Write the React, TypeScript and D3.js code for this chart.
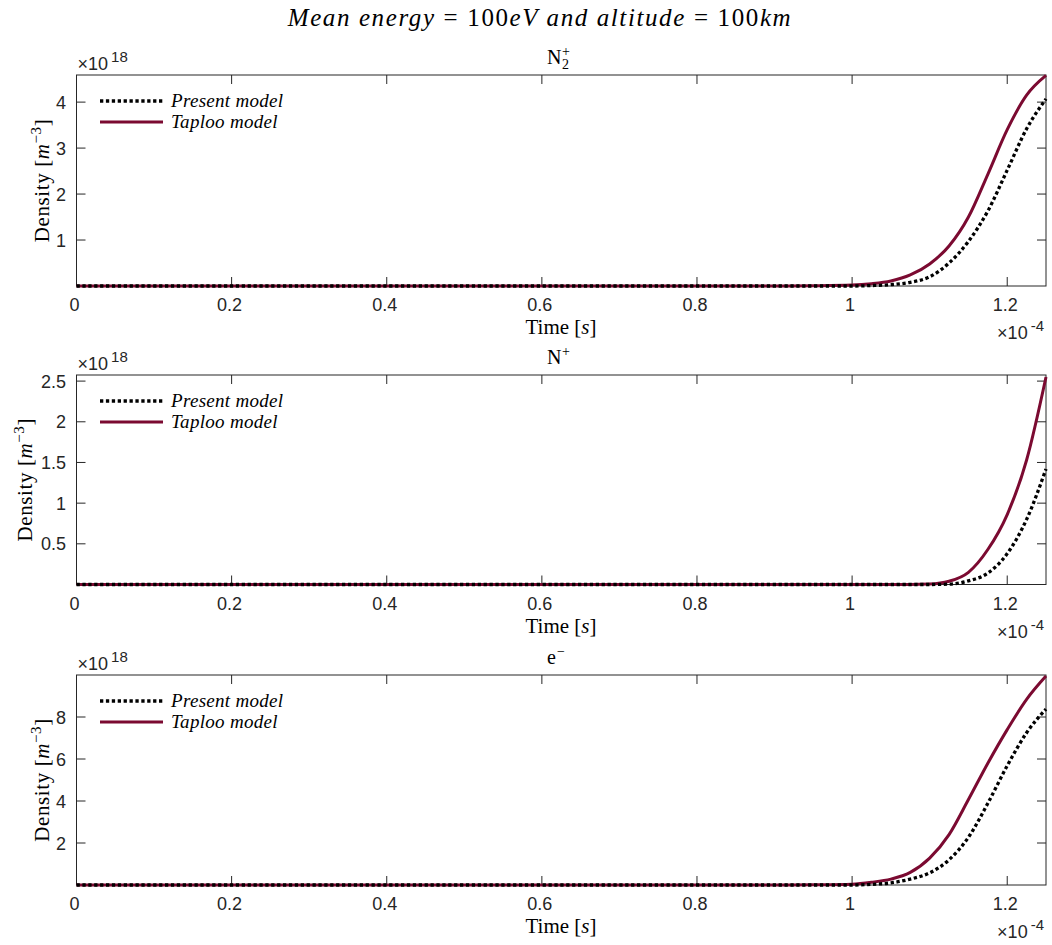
import React from "react";
import * as d3 from "d3";

// time in units of 1e-4 s
const timeE4 = [0, 0.1, 0.2, 0.3, 0.4, 0.5, 0.6, 0.7, 0.8, 0.9, 0.95, 1.0, 1.025, 1.05, 1.075, 1.1, 1.125, 1.15, 1.175, 1.2, 1.225, 1.25];

// densities in units of 1e18 m^-3
const n2Present = [0, 0, 0, 0, 0, 0, 0, 0, 0, 0, 0, 0.0, 0.01, 0.03, 0.08, 0.2, 0.5, 0.97, 1.63, 2.52, 3.42, 4.07];
const n2Taploo = [0, 0, 0, 0, 0, 0, 0, 0, 0, 0, 0.005, 0.02, 0.05, 0.11, 0.24, 0.48, 0.87, 1.5, 2.43, 3.4, 4.15, 4.58];
const nPresent = [0, 0, 0, 0, 0, 0, 0, 0, 0, 0, 0, 0, 0, 0, 0, 0, 0.005, 0.045, 0.14, 0.38, 0.8, 1.42];
const nTaploo = [0, 0, 0, 0, 0, 0, 0, 0, 0, 0, 0, 0, 0, 0, 0, 0.005, 0.04, 0.15, 0.43, 0.86, 1.53, 2.55];
const ePresent = [0, 0, 0, 0, 0, 0, 0, 0, 0, 0, 0, 0.0, 0.03, 0.1, 0.28, 0.58, 1.2, 2.27, 3.89, 5.68, 7.25, 8.38];
const eTaploo = [0, 0, 0, 0, 0, 0, 0, 0, 0, 0, 0.01, 0.04, 0.13, 0.28, 0.6, 1.28, 2.4, 4.07, 5.8, 7.4, 8.84, 9.95];

const xTicks = [0, 0.2, 0.4, 0.6, 0.8, 1, 1.2];
const n2Ticks = [1, 2, 3, 4];
const nTicks = [0.5, 1, 1.5, 2, 2.5];
const eTicks = [2, 4, 6, 8];

const seriesNames = ["Present model", "Taploo model"];

const W = 1052;
const H = 945;
const left = 76.5;
const right = 1046;
const axisColor = "#262626";
const taplooColor = "#7b0a31";
const tickFont = "'Liberation Sans', Arial, sans-serif";
const serif = "'Liberation Serif', 'Times New Roman', serif";

const panels = [
  { top: 75, bottom: 286, ymax: 4.59, ticks: n2Ticks, present: n2Present, taploo: n2Taploo, name: "n2", labelX: 49 },
  { top: 375, bottom: 584.5, ymax: 2.575, ticks: nTicks, present: nPresent, taploo: nTaploo, name: "n", labelX: 32 },
  { top: 675, bottom: 885, ymax: 10, ticks: eTicks, present: ePresent, taploo: eTaploo, name: "e", labelX: 49 },
];

const x = d3.scaleLinear().domain([0, 1.25]).range([left, right]);

function PanelTitle({ name, y }: { name: string; y: number }) {
  const cx = 547;
  if (name === "n2") {
    return (
      <g fontFamily={serif} fill="#000">
        <text x={cx} y={y} fontSize={20}>N</text>
        <text x={cx + 15} y={y + 5} fontSize={14}>2</text>
        <text x={cx + 15} y={y - 8} fontSize={14}>+</text>
      </g>
    );
  }
  if (name === "n") {
    return (
      <g fontFamily={serif} fill="#000">
        <text x={cx} y={y} fontSize={20}>N</text>
        <text x={cx + 15} y={y - 8} fontSize={14}>+</text>
      </g>
    );
  }
  return (
    <g fontFamily={serif} fill="#000">
      <text x={cx} y={y} fontSize={20}>e</text>
      <text x={cx + 10} y={y - 8} fontSize={14}>−</text>
    </g>
  );
}

function Panel({ p }: { p: (typeof panels)[number] }) {
  const y = d3.scaleLinear().domain([0, p.ymax]).range([p.bottom, p.top]);
  const line = d3
    .line<number>()
    .x((_, i) => x(timeE4[i]))
    .y((d) => y(d))
    .curve(d3.curveMonotoneX);
  const tl = 9;
  const cy = (p.top + p.bottom) / 2;
  return (
    <g>
      {/* box */}
      <rect x={left} y={p.top} width={right - left} height={p.bottom - p.top} fill="none" stroke={axisColor} strokeWidth={1} />
      {xTicks.map((t) => (
        <g key={"x" + t}>
          <line x1={x(t)} x2={x(t)} y1={p.bottom} y2={p.bottom - tl} stroke={axisColor} />
          <line x1={x(t)} x2={x(t)} y1={p.top} y2={p.top + tl} stroke={axisColor} />
          <text x={x(t) - 2} y={p.bottom + 25} textAnchor="middle" fontFamily={tickFont} fontSize={18} fill={axisColor}>
            {String(+t.toFixed(2))}
          </text>
        </g>
      ))}
      {p.ticks.map((t) => (
        <g key={"y" + t}>
          <line x1={left} x2={left + tl} y1={y(t)} y2={y(t)} stroke={axisColor} />
          <line x1={right} x2={right - tl} y1={y(t)} y2={y(t)} stroke={axisColor} />
          <text x={66} y={y(t) + 6.5} textAnchor="end" fontFamily={tickFont} fontSize={18} fill={axisColor}>
            {String(t)}
          </text>
        </g>
      ))}
      {/* exponent labels */}
      <text x={left + 1} y={p.top - 5} fontFamily={tickFont} fontSize={18} fill={axisColor}>
        ×10<tspan dy={-8} fontSize={15} dx={3}>18</tspan>
      </text>
      <text x={1044} y={p.bottom + 53} textAnchor="end" fontFamily={tickFont} fontSize={18} fill={axisColor}>
        ×10<tspan dy={-8} fontSize={15} dx={3}>-4</tspan>
      </text>
      {/* axis labels */}
      <text x={561} y={p.bottom + 48} textAnchor="middle" fontFamily={serif} fontSize={21}>
        Time [<tspan fontStyle="italic">s</tspan>]
      </text>
      <text transform={`translate(${p.labelX},${cy}) rotate(-90)`} textAnchor="middle" fontFamily={serif} fontSize={21} letterSpacing={0.6}>
        Density [<tspan fontStyle="italic">m</tspan>
        <tspan dy={-8} fontSize={15}>−3</tspan>
        <tspan dy={8}>]</tspan>
      </text>
      <PanelTitle name={p.name} y={p.top - 11} />
      {/* curves */}
      <path d={line(p.taploo) ?? ""} fill="none" stroke={taplooColor} strokeWidth={3} />
      <path d={line(p.present) ?? ""} fill="none" stroke="#000" strokeWidth={3.3} strokeDasharray="3.3 2.6" />
      {/* legend */}
      <line x1={100} x2={163} y1={p.top + 26} y2={p.top + 26} stroke="#000" strokeWidth={3.3} strokeDasharray="3.3 2.6" />
      <text x={171} y={p.top + 32} fontFamily={serif} fontStyle="italic" fontSize={19} letterSpacing={0.3}>{seriesNames[0]}</text>
      <line x1={100} x2={163} y1={p.top + 47} y2={p.top + 47} stroke={taplooColor} strokeWidth={3} />
      <text x={171} y={p.top + 53} fontFamily={serif} fontStyle="italic" fontSize={19} letterSpacing={0.3}>{seriesNames[1]}</text>
    </g>
  );
}

export default function App() {
  return (
    <svg width={W} height={H} style={{ position: "absolute", left: 0, top: 0, background: "#fff" }}>
      <rect width={W} height={H} fill="#fff" />
      <text x={540} y={26} textAnchor="middle" fontFamily={serif} fontSize={25} letterSpacing={1.6}>
        <tspan fontStyle="italic">Mean energy</tspan>
        <tspan dx={8}>=</tspan>
        <tspan dx={8}>100</tspan>
        <tspan fontStyle="italic">eV and altitude</tspan>
        <tspan dx={8}>=</tspan>
        <tspan dx={8}>100</tspan>
        <tspan fontStyle="italic">km</tspan>
      </text>
      {panels.map((p) => (
        <Panel key={p.name} p={p} />
      ))}
    </svg>
  );
}
